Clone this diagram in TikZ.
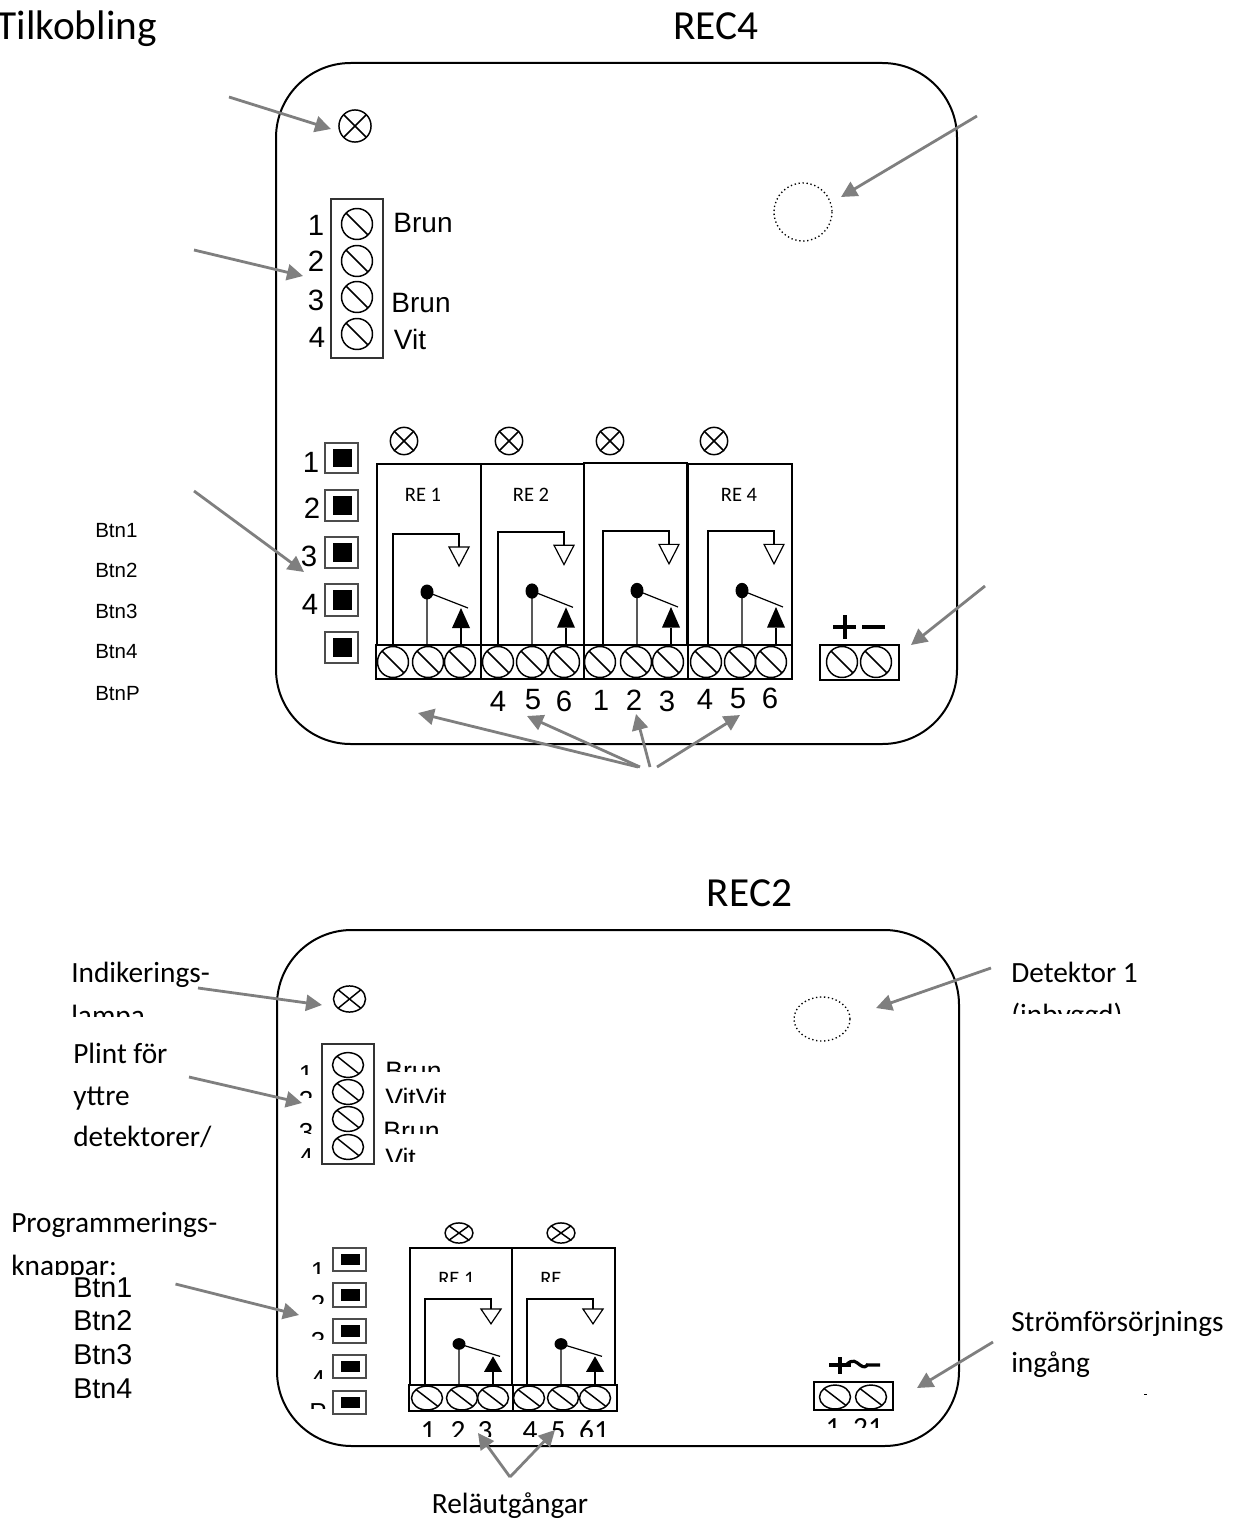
\documentclass[tikz,border=0pt]{standalone}
\usepackage{fontspec}
\setmainfont{Liberation Sans}
\newfontfamily\calfont{Carlito}
\usetikzlibrary{arrows.meta}
\definecolor{arrowgray}{HTML}{7F7F7F}
\tikzset{
	housing/.style={line width=1.5pt,rounded corners=56pt},
	thin line/.style={line width=0.9pt},
	pointer/.style={-{Triangle[length=12pt,width=12pt]},line width=2.1pt,color=arrowgray},
	callab/.style={font=\fontsize{22}{26}\selectfont\calfont,anchor=base west,inner sep=0pt},
	title/.style={font=\fontsize{31}{36}\selectfont\calfont,anchor=base,inner sep=0pt},
	relaylab/.style={font=\fontsize{15.4}{18}\selectfont\calfont,inner sep=0pt},
	wirelab/.style={font=\fontsize{21}{24}\selectfont,inner sep=0pt},
	wirelabb/.style={font=\fontsize{20}{24}\selectfont,anchor=base west,inner sep=0pt},
	numlab/.style={font=\fontsize{22}{26}\selectfont,inner sep=0pt},
	numlabb/.style={font=\fontsize{19.5}{24}\selectfont,anchor=base,inner sep=0pt},
	btnlab/.style={font=\fontsize{15.4}{18}\selectfont,anchor=base west,inner sep=0pt},
	btnlabb/.style={font=\fontsize{21.5}{24}\selectfont,anchor=base west,inner sep=0pt},
	screw/.pic={
		\draw[line width=1.1pt] (0,0) circle (15.5);
		\draw[line width=1.1pt] (-11,-11) -- (11,11);
	},
	lamp/.pic={
		\draw[line width=1.1pt] (0,0) circle (15);
		\draw[line width=1.1pt] (-10.5,-10.5) -- (10.5,10.5);
		\draw[line width=1.1pt] (-10.5,10.5) -- (10.5,-10.5);
	},
	btn/.pic={
		\draw[line width=0.8pt,draw=black!70] (0,0) rectangle (33,#1);
		\fill (8,6) rectangle (27,#1-6);
	},
	relay/.pic={
		\draw[thin line] (0,111) -- (0,0) -- (66,0) -- (66,13);
		\draw[thin line,fill=white] (56,13) -- (76,13) -- (66,32) -- cycle;
		\fill (34,58) ellipse (6.5 and 7.5);
		\draw[thin line] (34,111) -- (34,58) -- (75,74);
		\draw[thin line] (68,111) -- (68,94);
		\fill (68,74) -- (77,94) -- (59,94) -- cycle;
	}
}
% label that is cut off below: name, x, baseline, cut, style, text
\newcommand{\cutlabel}[6]{
	\begin{scope}
		\clip (-20,#4-60) rectangle (1260,#4);
		\node[#5] (#1) at (#2,#3) {#6};
	\end{scope}
}
\begin{document}
\begin{tikzpicture}[x=0.75pt,y=-0.75pt]
	\useasboundingbox (0,0) rectangle (1237,1520);

	% titles
	\node[title,anchor=base east] (tilkobling) at (157,40) {Tilkobling};
	\node[title] (rec4) at (716,40) {REC4};
	\node[title] (rec2) at (749.5,906) {REC2};

	% ---- upper unit
	\draw[housing] (276,63) rectangle (957,744);
	\pic[scale=1.07] at (355,126) {lamp};
	\draw[thin line,draw=black!80] (331,199) rectangle (383,358);
	\foreach \y in {224,261,297,334} \pic at (357,\y) {screw};
	\foreach \n/\x/\y in {1/316/225,2/316/261,3/316/300,4/317/337}
		\node[numlab] (plintu\n) at (\x,\y) {\n};
	\node[wirelab] (wireua) at (423,223) {Brun};
	\node[wirelab] (wireub) at (421,303) {Brun};
	\node[wirelab] (wireuc) at (410,339) {Vit};
	\draw[dotted,line width=1pt] (803,212) circle (29);

	\foreach \y/\h in {443/30,490/31,537/31,584/32,632/31} \pic at (325,\y) {btn=\h};
	\foreach \n/\x/\y in {1/311/462,2/312/508,3/309/556,4/310/604}
		\node[numlab] (btnu\n) at (\x,\y) {\n};
	\foreach \n/\y/\t in {a/537/Btn1,b/577/Btn2,c/618/Btn3,d/658/Btn4,e/700/BtnP}
		\node[btnlab] (btnname\n) at (95,\y) {\t};

	\foreach \x in {404,509,610,714} \pic[scale=0.91] at (\x,441) {lamp};
	\draw[thin line] (377,645) -- (377,464) -- (481,464) -- (481,645);
	\draw[thin line] (481,464) -- (584,464) -- (584,645);
	\draw[thin line] (583,463) -- (687,463) -- (687,645);
	\draw[thin line] (688,645) -- (688,464) -- (792,464) -- (792,645);
	\node[relaylab] (reua) at (423,495) {RE 1};
	\node[relaylab] (reub) at (531,495) {RE 2};
	\node[relaylab] (reud) at (739,495) {RE 4};
	\foreach \x/\y [evaluate=\y as \ys using (645-\y)/111] in {393/534,498/532,603/531,708/531}
		\pic[yscale=\ys] at (\x,\y) {relay};
	\draw[line width=1.5pt] (376,645) rectangle (792,679);
	\foreach \x in {481,584,688} \draw[line width=1.2pt] (\x,645) -- (\x,679);
	\foreach \x in {393,428,460,498,532,564,600,636,668,706,740,771} \pic at (\x,662) {screw};
	\foreach \n/\x/\y/\t in {a/498/701/4,b/533/700/5,c/564/701/6,d/601/700/1,e/634/700/2,f/667/701/3,g/705/699/4,h/738/699/5,i/770/698/6}
		\node[numlab] (outu\n) at (\x,\y) {\t};

	\draw[line width=1.5pt] (820,645) rectangle (899,680);
	\foreach \x in {842,876} \pic at (\x,662) {screw};
	\draw[line width=3pt] (833,627) -- (856,627) (844.5,615) -- (844.5,639) (862,627) -- (885,627);

	% pointers upper unit
	\coordinate (pa) at (229,97);   \coordinate (pat) at (331,129);
	\coordinate (pb) at (194,250);  \coordinate (pbt) at (303,276);
	\coordinate (pc) at (194,491);  \coordinate (pct) at (304,572);
	\coordinate (pd) at (977,116);  \coordinate (pdt) at (841,197);
	\coordinate (pe) at (985,586);  \coordinate (pet) at (911,645);
	\draw[pointer] (pa) -- (pat);
	\draw[pointer] (pb) -- (pbt);
	\draw[pointer] (pc) -- (pct);
	\draw[pointer] (pd) -- (pdt);
	\draw[pointer] (pe) -- (pet);
	\coordinate (pf) at (638,767);  \coordinate (pft) at (418,713);
	\coordinate (pg) at (640,767);  \coordinate (pgt) at (527,716);
	\coordinate (ph) at (650,767);  \coordinate (pht) at (636,714);
	\coordinate (pi) at (657,767);  \coordinate (pit) at (740,715);
	\draw[pointer] (pf) -- (pft);
	\draw[pointer] (pg) -- (pgt);
	\draw[pointer] (ph) -- (pht);
	\draw[pointer] (pi) -- (pit);

	% ---- lower unit
	\draw[housing] (277,930) rectangle (959,1446);
	\pic[yscale=0.87,xscale=1.07] at (349.5,999) {lamp};
	\draw[thin line,draw=black!80] (322,1044) rectangle (374,1164);
	\foreach \y in {1065,1092,1119,1147} \pic[yscale=0.8] at (348,\y) {screw};
	\cutlabel{wireda}{385}{1080}{1071}{wirelabb}{Brun}
	\cutlabel{wiredb}{385}{1107}{1102}{wirelabb}{VitVit}
	\cutlabel{wiredc}{383}{1140}{1133}{wirelabb}{Brun}
	\cutlabel{wiredd}{385}{1167}{1161}{wirelabb}{Vit}
	\cutlabel{plintd1}{306}{1083}{1074}{numlabb}{1}
	\cutlabel{plintd2}{306}{1109}{1097}{numlabb}{2}
	\cutlabel{plintd3}{306}{1141}{1133}{numlabb}{3}
	\cutlabel{plintd4}{306}{1166}{1157}{numlabb}{4}
	\draw[dotted,line width=1pt] (822,1019) ellipse (28 and 22);

	\foreach \y/\h in {1248/23,1283/24,1319/24,1355/23,1391/23} \pic at (333,\y) {btn=\h};
	\cutlabel{btnd1}{318}{1280}{1273}{numlabb}{1}
	\cutlabel{btnd2}{318}{1313}{1303}{numlabb}{2}
	\cutlabel{btnd3}{318}{1350}{1339}{numlabb}{3}
	\cutlabel{btnd4}{318}{1388}{1378}{numlabb}{4}
	\cutlabel{btnd5}{318}{1421}{1408}{numlabb}{P}

	\foreach \x in {459,561} \pic[yscale=0.67,xscale=0.93] at (\x,1233) {lamp};
	\draw[thin line] (410,1385) -- (410,1248) -- (512,1248) -- (512,1385);
	\draw[thin line] (512,1248) -- (615,1248) -- (615,1385);
	\cutlabel{reda}{438}{1285}{1281}{relaylab,anchor=base west}{RE 1}
	\cutlabel{redb}{540}{1285}{1281}{relaylab,anchor=base west}{RE}
	\foreach \x in {425,527} \pic[yscale=0.775] at (\x,1299) {relay};
	\draw[line width=1.5pt] (409,1385) rectangle (617,1411);
	\draw[line width=1.2pt] (513,1385) -- (513,1411);
	\foreach \x in {427,462,493,529,563,595} \pic[yscale=0.77] at (\x,1398) {screw};
	\cutlabel{outda}{428}{1440}{1436}{callab,anchor=base}{1}
	\cutlabel{outdb}{458}{1440}{1436}{callab,anchor=base}{2}
	\cutlabel{outdc}{485}{1440}{1436}{callab,anchor=base}{3}
	\cutlabel{outdd}{530}{1440}{1436}{callab,anchor=base}{4}
	\cutlabel{outde}{558}{1440}{1436}{callab,anchor=base}{5}
	\cutlabel{outdf}{594}{1440}{1436}{callab,anchor=base}{61}

	\draw[line width=1.5pt] (814,1382) rectangle (893,1410);
	\foreach \x in {835,871} \pic[yscale=0.77] at (\x,1397) {screw};
	\draw[line width=2.4pt] (829,1365) -- (851,1365) (840,1357) -- (840,1374);
	\draw[line width=2.4pt] (846,1365) .. controls (853,1358) and (856,1362) .. (860,1365) .. controls (864,1368) and (866,1367) .. (868,1364) (866,1365) -- (880,1365);
	\cutlabel{powda}{833}{1437}{1427}{callab,anchor=base}{1}
	\cutlabel{powdb}{868}{1437}{1427}{callab,anchor=base}{21}
	\fill (1144,1394) rectangle (1147,1395);

	% texts lower unit
	\node[callab] (indik) at (71,982) {Indikerings-};
	\cutlabel{lampa}{71}{1025}{1016}{callab}{lampa}
	\node[callab] (plintfor) at (73,1063) {Plint för};
	\node[callab] (yttre) at (73,1105) {yttre};
	\node[callab] (detektorer) at (73,1146) {detektorer/};
	\node[callab] (progr) at (11,1232) {Programmerings-};
	\cutlabel{knappar}{11}{1275}{1274}{callab}{knappar:}
	\node[btnlabb] (btnda) at (73,1297) {Btn1};
	\node[btnlabb] (btndb) at (73,1330) {Btn2};
	\node[btnlabb] (btndc) at (73,1364) {Btn3};
	\node[btnlabb] (btndd) at (73,1398) {Btn4};
	\node[callab] (detektor) at (1011,982) {Detektor 1};
	\cutlabel{inbyggd}{1011}{1024}{1013}{callab}{(inbyggd)}
	\node[callab] (strom) at (1011,1331) {Strömförsörjnings};
	\node[callab] (ingang) at (1011,1372) {ingång};
	\node[callab,anchor=base] (relaut) at (510,1513) {Reläutgångar};

	% pointers lower unit
	\coordinate (qa) at (198,988);  \coordinate (qat) at (322,1005);
	\coordinate (qb) at (189,1077); \coordinate (qbt) at (302,1103);
	\coordinate (qc) at (175.5,1284); \coordinate (qct) at (299,1315);
	\coordinate (qd) at (991,968);  \coordinate (qdt) at (876,1008);
	\coordinate (qe) at (993,1342); \coordinate (qet) at (917,1388);
	\coordinate (qf) at (510,1477); \coordinate (qft) at (478,1433);
	\coordinate (qgt) at (555,1430);
	\draw[pointer] (qa) -- (qat);
	\draw[pointer] (qb) -- (qbt);
	\draw[pointer] (qc) -- (qct);
	\draw[pointer] (qd) -- (qdt);
	\draw[pointer] (qe) -- (qet);
	\draw[pointer] (qf) -- (qft);
	\draw[pointer] (qf) -- (qgt);
\end{tikzpicture}
\end{document}
